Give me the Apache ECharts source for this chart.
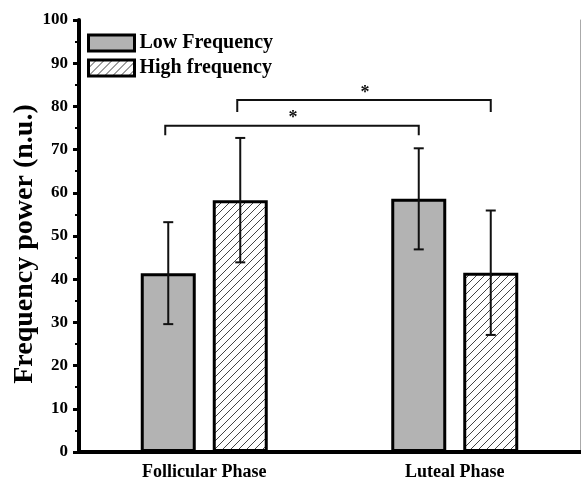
<!DOCTYPE html>
<html><head><meta charset="utf-8">
<script src="https://cdn.jsdelivr.net/npm/echarts@6/dist/echarts.min.js"></script>
<style>html,body{margin:0;padding:0;background:#fff}#c{width:581px;height:484px}</style>
</head><body><div id="c"></div>
<script>
const categories = ['Follicular Phase', 'Luteal Phase'];
const seriesNames = ['Low Frequency', 'High frequency'];
const lowMean = [41.4, 58.6];
const lowSD = [11.8, 11.7];
const highMean = [58.3, 41.5];
const highSD = [14.4, 14.4];
const yTicks = [0, 10, 20, 30, 40, 50, 60, 70, 80, 90, 100];
// significance brackets: [fromCat, fromSeries, toCat, toSeries, level, legEnd, label]
const brackets = [
  [0, 0, 1, 0, 75.5, 73.3, '*'],
  [0, 1, 1, 1, 81.5, 78.7, '*']
];

const FONT = 'Liberation Serif';
const BAR_W = 55, GAP = 17, OFF = (BAR_W + GAP) / 2;

const cv = document.createElement('canvas');
cv.width = 8; cv.height = 8;
const cx = cv.getContext('2d');
cx.fillStyle = '#fff'; cx.fillRect(0, 0, 8, 8);
cx.strokeStyle = '#444'; cx.lineWidth = 1;
cx.beginPath();
cx.moveTo(-1, 9); cx.lineTo(9, -1);
cx.moveTo(-1, 1); cx.lineTo(1, -1);
cx.moveTo(7, 9); cx.lineTo(9, 7);
cx.stroke();
const hatch = { image: cv, repeat: 'repeat' };

const errData = [];
categories.forEach((c, i) => {
  errData.push([i, lowMean[i], lowMean[i] - lowSD[i], lowMean[i] + lowSD[i], 0]);
  errData.push([i, highMean[i], highMean[i] - highSD[i], highMean[i] + highSD[i], 1]);
});

const chart = echarts.init(document.getElementById('c'));
chart.setOption({
  animation: false,
  backgroundColor: '#fff',
  grid: { left: 79, right: 1, top: 20, bottom: 32, containLabel: false, outerBoundsMode: 'none' },
  legend: {
    orient: 'vertical', left: 82, top: 28, itemWidth: 46, itemHeight: 16, itemGap: 5,
    icon: 'rect',
    textStyle: { fontFamily: FONT, fontWeight: 'bold', fontSize: 20, color: '#000' },
    data: [
      { name: seriesNames[0], itemStyle: { color: '#b3b3b3', borderColor: '#000', borderWidth: 3 } },
      { name: seriesNames[1], itemStyle: { color: hatch, borderColor: '#000', borderWidth: 3 } }
    ]
  },
  xAxis: [{
    type: 'category', data: categories, position: 'bottom',
    axisLine: { lineStyle: { color: '#000', width: 4 } },
    axisTick: { alignWithLabel: true, length: 6, lineStyle: { width: 3, color: '#000' } },
    axisLabel: { fontFamily: FONT, fontWeight: 'bold', fontSize: 18, color: '#000', margin: 11 }
  }, {
    type: 'category', data: categories, position: 'top',
    axisLine: { lineStyle: { color: '#000', width: 4 } },
    axisTick: { show: false }, axisLabel: { show: false }
  }],
  yAxis: [{
    type: 'value', min: 0, max: 100, interval: 10,
    name: 'Frequency power (n.u.)', nameLocation: 'middle', nameGap: 40, nameMoveOverlap: false,
    nameTextStyle: { fontFamily: FONT, fontWeight: 'bold', fontSize: 28, color: '#000', padding: [0, 16, 0, 0] },
    axisLine: { show: true, lineStyle: { color: '#000', width: 4 } },
    axisTick: { show: true, length: 6, lineStyle: { width: 3, color: '#000' } },
    minorTick: { show: true, splitNumber: 2, length: 4, lineStyle: { width: 2, color: '#000' } },
    splitLine: { show: false },
    axisLabel: { fontFamily: FONT, fontWeight: 'bold', fontSize: 17, color: '#000', margin: 11,
      formatter: v => yTicks.includes(v) ? String(v) : '' }
  }, {
    type: 'value', min: 0, max: 100, position: 'right',
    axisLine: { show: true, lineStyle: { color: '#aaa', width: 1 } },
    axisTick: { show: false }, axisLabel: { show: false }, splitLine: { show: false }
  }],
  series: [{
    name: seriesNames[0], type: 'bar', data: lowMean, barWidth: BAR_W, barGap: (GAP / BAR_W * 100).toFixed(1) + '%',
    itemStyle: { color: '#b3b3b3', borderColor: '#000', borderWidth: 3 }
  }, {
    name: seriesNames[1], type: 'bar', data: highMean, barWidth: BAR_W,
    itemStyle: { color: hatch, borderColor: '#000', borderWidth: 3 }
  }, {
    type: 'custom', z: 5, data: errData,
    renderItem: (params, api) => {
      const c = api.value(0), s = api.value(4);
      const x = api.coord([c, 0])[0] + (s === 0 ? -OFF : OFF);
      const yl = api.coord([c, api.value(2)])[1];
      const yh = api.coord([c, api.value(3)])[1];
      const st = { stroke: '#111', lineWidth: 2 };
      return { type: 'group', children: [
        { type: 'line', shape: { x1: x, y1: yl, x2: x, y2: yh }, style: st },
        { type: 'line', shape: { x1: x - 5, y1: yl, x2: x + 5, y2: yl }, style: st },
        { type: 'line', shape: { x1: x - 5, y1: yh, x2: x + 5, y2: yh }, style: st }
      ]};
    }
  }, {
    type: 'custom', z: 5, data: brackets,
    renderItem: (params, api) => {
      const b = brackets[params.dataIndex];
      const x1 = api.coord([b[0], 0])[0] + (b[1] === 0 ? -OFF : OFF) - 3;
      const x2 = api.coord([b[2], 0])[0] + (b[3] === 0 ? -OFF : OFF);
      const y = api.coord([0, b[4]])[1];
      const yEnd = api.coord([0, b[5]])[1];
      const st = { stroke: '#111', lineWidth: 2, fill: null };
      return { type: 'group', children: [
        { type: 'polyline', shape: { points: [[x1, yEnd], [x1, y], [x2, y], [x2, yEnd]] }, style: st },
        { type: 'text', x: (x1 + x2) / 2 + 1, y: y + 2, style: { text: b[6], fontFamily: FONT, fontSize: 18, fontWeight: 'bold',
          fill: '#111', align: 'center', verticalAlign: 'bottom' } }
      ]};
    }
  }]
});
</script></body></html>
